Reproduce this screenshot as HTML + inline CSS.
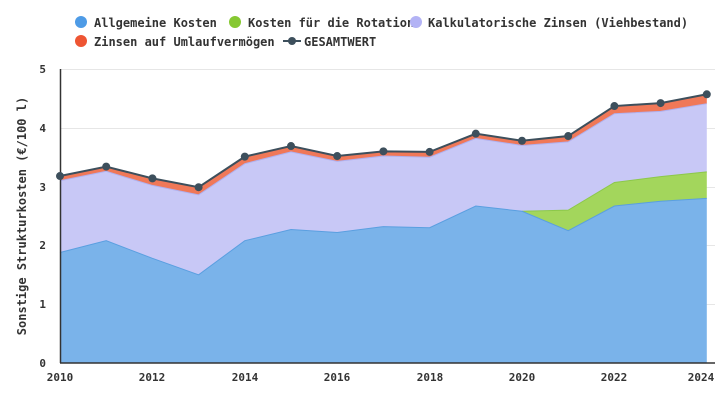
<!DOCTYPE html>
<html><head><meta charset="utf-8"><style>
html,body{margin:0;padding:0;background:#fff;}
svg{display:block;font-family:"DejaVu Sans Mono","Liberation Mono",monospace;}
</style></head><body>
<svg id="s" width="725" height="400" xmlns="http://www.w3.org/2000/svg">
<g stroke="#e6e6e6" stroke-width="1">
<line x1="60" x2="715" y1="69.5" y2="69.5"/><line x1="60" x2="715" y1="128.5" y2="128.5"/>
<line x1="60" x2="715" y1="187.5" y2="187.5"/><line x1="60" x2="715" y1="245.5" y2="245.5"/>
<line x1="60" x2="715" y1="304.5" y2="304.5"/>
</g>
<g id="areas"></g>
<line x1="60.5" x2="60.5" y1="69" y2="363" stroke="#333" stroke-width="1.5"/>
<line x1="60" x2="715" y1="363" y2="363" stroke="#333" stroke-width="1.5"/>
<g font-size="11" font-weight="bold" fill="#333" text-anchor="end">
<text x="46" y="367">0</text><text x="46" y="308">1</text><text x="46" y="249">2</text>
<text x="46" y="191">3</text><text x="46" y="132">4</text><text x="46" y="73">5</text>
</g>
<g font-size="11" font-weight="bold" fill="#333" text-anchor="middle">
<text x="60" y="381">2010</text><text x="152" y="381">2012</text><text x="245" y="381">2014</text>
<text x="337" y="381">2016</text><text x="430" y="381">2018</text><text x="522" y="381">2020</text>
<text x="614" y="381">2022</text><text x="701" y="381">2024</text>
</g>
<text transform="translate(26,216) rotate(-90)" font-size="12" font-weight="bold" fill="#333" text-anchor="middle">Sonstige Strukturkosten (€/100 l)</text>
<g font-size="12" font-weight="bold" fill="#333">
<circle cx="81" cy="22" r="6" fill="#4e9be6"/><text x="94" y="27">Allgemeine Kosten</text>
<circle cx="235" cy="22" r="6" fill="#86c832"/><text x="248" y="27">Kosten für die Rotation</text>
<circle cx="416" cy="22" r="6" fill="#b3b3f5"/><text x="428" y="27">Kalkulatorische Zinsen (Viehbestand)</text>
<circle cx="81" cy="41" r="6" fill="#ee5533"/><text x="94" y="46">Zinsen auf Umlaufvermögen</text>
<line x1="283" x2="301" y1="41" y2="41" stroke="#3d4f5c" stroke-width="2"/><circle cx="292" cy="41" r="4" fill="#3d4f5c"/>
<text x="304" y="46">GESAMTWERT</text>
</g>
<g id="top"></g>
</svg>
<script>
var A=[1.88,2.08,1.78,1.50,2.08,2.27,2.22,2.32,2.30,2.67,2.58,2.25,2.67,2.75,2.80];
var R=[0,0,0,0,0,0,0,0,0,0,0,0.35,0.40,0.42,0.45];
var G=[3.18,3.34,3.14,2.99,3.51,3.69,3.52,3.60,3.59,3.90,3.78,3.86,4.37,4.42,4.57];
var Z=[0.08,0.08,0.12,0.13,0.12,0.1,0.09,0.08,0.09,0.08,0.08,0.1,0.13,0.14,0.16];
function X(i){return 60+i*46.2;} function Y(v){return 363-v*58.8;}
var n=15,b1=[],b2=[],b3=[],b4=[];
for(var i=0;i<n;i++){b1.push(A[i]);b2.push(A[i]+R[i]);b3.push(G[i]-Z[i]);b4.push(G[i]);}
function band(lo,hi,fill){var d="M";for(var i=0;i<n;i++)d+=X(i)+","+Y(hi[i])+" L";for(var i=n-1;i>=0;i--)d+=X(i)+","+Y(lo?lo[i]:0)+(i?" L":"");
return '<path d="'+d+'Z" fill="'+fill+'"/>';}
function line(v,c,w,s){s=s||0;var d="M";for(var i=s;i<n;i++)d+=X(i)+","+Y(v[i])+(i<n-1?" L":"");return '<path d="'+d+'" fill="none" stroke="'+c+'" stroke-width="'+w+'"/>';}
var h=band(null,b1,"#7ab3ea")+band(b1,b2,"#a3d65c")+band(b2,b3,"#c8c8f6")+band(b3,b4,"#f07858")+line(b3,"#b0b0ee",1)+line(b2,"#8cc84a",1,10)+line(b1,"#5a9fe0",1)+line(b4,"#ee5533",1);
document.getElementById("areas").innerHTML=h;
var t=line(b4,"#3d4f5c",2);for(var i=0;i<n;i++)t+='<circle cx="'+X(i)+'" cy="'+Y(G[i])+'" r="4" fill="#3d4f5c"/>';
document.getElementById("top").innerHTML=t;
</script>
</body></html>
